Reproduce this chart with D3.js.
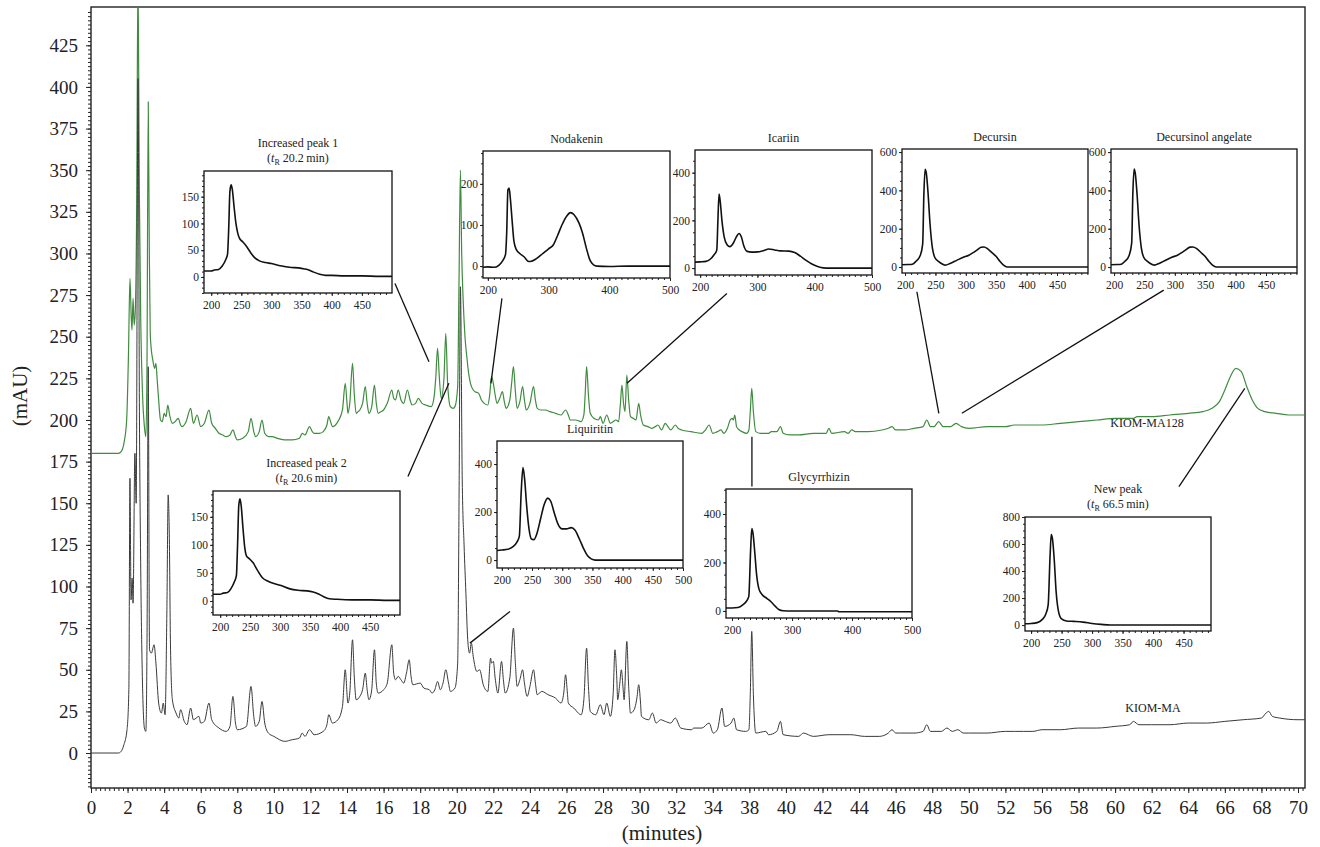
<!DOCTYPE html>
<html>
<head>
<meta charset="utf-8">
<script src="https://cdn.jsdelivr.net/npm/d3@7"></script>
<style>
body { margin: 0; background: #fff; }
svg text { font-family: "Liberation Serif", "DejaVu Serif", serif; fill: #222; }
</style>
</head>
<body>
<div id="chart"></div>
<script>
// tick labels of the main axis (36 and 54 are not printed in the original)
const xTickLabels = [0,2,4,6,8,10,12,14,16,18,20,22,24,26,28,30,32,34,38,40,42,44,46,48,50,52,56,58,60,62,64,66,68,70];
const yTickLabels = d3.range(0, 426, 25);

// KIOM-MA128 chromatogram [minutes, mAU]
const ma128 = [[0,180],[1.5,180],[1.65,181],[1.8,186],[1.95,200],[2.05,240],[2.13,285],[2.2,262],[2.24,254],[2.3,273],[2.36,257],[2.42,265],[2.5,330],[2.57,470],[2.64,340],[2.72,260],[2.82,215],[2.92,196],[3.0,190],[3.06,230],[3.13,391],[3.19,300],[3.24,252],[3.3,242],[3.38,236],[3.48,231],[3.55,234],[3.62,224],[3.7,212],[3.8,200],[3.9,199],[4.0,204],[4.1,202],[4.2,209],[4.3,203],[4.45,198],[4.6,199],[4.77,201],[4.9,197],[4.97,196],[5.2,199],[5.45,207],[5.6,198],[5.8,203],[6.0,196],[6.2,198],[6.45,206],[6.6,198],[6.8,195],[7.0,192],[7.2,191],[7.4,190],[7.6,191],[7.76,194],[7.9,190],[8.0,188],[8.3,189],[8.6,193],[8.75,201],[8.9,193],[9.0,190],[9.2,193],[9.35,200],[9.5,192],[9.7,190],[9.9,190],[10.2,189],[10.6,188],[11.0,188],[11.4,189],[11.55,192],[11.7,191],[11.95,196],[12.1,193],[12.2,192],[12.5,192],[12.7,193],[12.9,197],[13.0,202],[13.1,199],[13.2,196],[13.5,199],[13.75,206],[13.9,222],[14.0,210],[14.05,204],[14.15,210],[14.3,234],[14.4,215],[14.5,204],[14.6,205],[14.7,206],[14.85,210],[15.0,220],[15.1,210],[15.2,204],[15.35,208],[15.5,221],[15.6,210],[15.7,204],[15.85,205],[16.0,206],[16.2,210],[16.45,218],[16.55,213],[16.65,212],[16.8,218],[16.95,212],[17.1,210],[17.3,218],[17.45,212],[17.55,209],[17.75,210],[17.9,213],[18.1,210],[18.3,209],[18.6,208],[18.75,213],[18.85,225],[18.95,243],[19.05,225],[19.15,213],[19.3,225],[19.4,252],[19.5,222],[19.65,208],[19.8,207],[19.9,208],[20.05,220],[20.12,280],[20.2,350],[20.27,300],[20.35,272],[20.45,250],[20.55,238],[20.65,228],[20.75,222],[20.9,218],[21.0,217],[21.2,216],[21.35,212],[21.5,210],[21.7,209],[21.8,215],[21.9,226],[22.0,222],[22.1,215],[22.2,210],[22.35,213],[22.5,217],[22.6,211],[22.7,207],[22.9,212],[23.0,222],[23.1,232],[23.2,218],[23.3,207],[23.45,211],[23.6,220],[23.7,212],[23.8,206],[24.0,210],[24.2,220],[24.3,212],[24.4,207],[24.6,206],[24.85,206],[25.1,205],[25.4,204],[25.7,203],[25.95,206],[26.1,203],[26.2,200],[26.5,200],[26.8,199],[26.95,203],[27.02,215],[27.1,232],[27.2,215],[27.3,204],[27.5,201],[27.75,200],[27.85,202],[28.0,198],[28.2,203],[28.4,198],[28.55,199],[28.7,200],[28.85,199],[28.95,210],[29.03,221],[29.12,210],[29.2,205],[29.3,227],[29.4,212],[29.5,202],[29.65,201],[29.8,200],[29.95,210],[30.05,203],[30.2,197],[30.45,196],[30.65,195],[30.85,196],[31.0,197],[31.2,194],[31.4,198],[31.55,196],[31.7,194],[31.95,197],[32.1,195],[32.3,194],[32.8,193],[33.4,192],[33.6,194],[33.8,197],[34.0,192],[34.5,193],[34.9,194],[35.2,192],[35.6,195],[35.9,200],[36.1,201],[36.25,200],[36.4,203],[36.6,196],[36.9,194],[37.2,193],[37.7,192],[37.95,194],[38.05,205],[38.13,219],[38.22,205],[38.35,193],[38.6,192],[38.9,192],[39.05,192],[39.2,193],[39.5,193],[39.7,196],[39.85,192],[40.2,191],[40.7,191],[41.5,192],[42.2,192],[42.35,195],[42.5,192],[43.2,193],[43.4,192],[43.6,194],[43.8,193],[44.5,193],[45.25,194],[45.6,195],[45.8,196],[46.0,194],[46.5,194],[47.0,195],[47.5,196],[47.7,200],[47.9,196],[48.1,196],[48.35,199],[48.6,196],[49.0,196],[49.3,198],[49.6,196],[50,195],[51,196],[52,196],[53,197],[54,197],[55,197],[56,197],[57,198],[58,199],[59,200],[60,201],[61,201],[61.2,202],[62,202],[63,203],[64,204],[64.8,205],[65.3,207],[65.7,211],[66.0,218],[66.3,226],[66.6,231],[66.9,229],[67.2,220],[67.5,212],[67.8,207],[68.2,205],[68.8,204],[69.5,203],[70.4,203]];

// KIOM-MA chromatogram [minutes, mAU]
const ma = [[0,0],[1.5,0],[1.65,1],[1.8,5],[1.97,14],[2.07,38],[2.13,165],[2.19,92],[2.25,105],[2.3,90],[2.4,180],[2.47,150],[2.57,405],[2.65,200],[2.72,110],[2.8,50],[2.92,15],[3.0,13],[3.07,80],[3.13,232],[3.2,62],[3.3,60],[3.45,65],[3.55,54],[3.7,30],[3.85,24],[3.95,30],[4.05,23],[4.15,86],[4.22,155],[4.28,132],[4.35,62],[4.45,32],[4.65,24],[4.8,21],[4.9,26],[5.1,19],[5.25,17],[5.45,27],[5.6,20],[5.9,22],[6.0,18],[6.2,19],[6.45,30],[6.6,20],[7.0,15],[7.4,13],[7.6,16],[7.76,34],[7.9,18],[8.0,14],[8.5,16],[8.75,40],[8.9,22],[9.0,16],[9.2,19],[9.35,31],[9.5,18],[9.7,12],[10.0,10],[10.6,7],[11.0,8],[11.4,9],[11.55,12],[11.7,10],[11.95,14],[12.2,11],[12.7,13],[12.9,17],[13.0,23],[13.2,18],[13.5,20],[13.75,28],[13.9,50],[14.05,30],[14.15,36],[14.3,68],[14.4,45],[14.5,32],[14.7,34],[14.85,38],[15.0,48],[15.1,38],[15.2,32],[15.35,38],[15.5,62],[15.6,42],[15.7,36],[16.0,38],[16.2,42],[16.45,65],[16.55,48],[16.65,44],[16.8,46],[16.95,44],[17.1,42],[17.25,48],[17.4,56],[17.5,46],[17.6,41],[18.0,42],[18.2,39],[18.5,38],[18.65,36],[18.8,38],[18.95,43],[19.1,38],[19.25,42],[19.4,50],[19.55,42],[19.65,37],[19.9,39],[20.05,54],[20.13,160],[20.2,280],[20.3,164],[20.4,125],[20.5,96],[20.6,68],[20.7,60],[20.8,66],[20.9,58],[21.1,49],[21.25,50],[21.45,41],[21.7,37],[21.85,57],[21.9,54],[22.0,55],[22.1,45],[22.25,36],[22.45,55],[22.55,44],[22.65,36],[22.9,45],[23.1,75],[23.2,55],[23.3,40],[23.45,44],[23.6,50],[23.7,42],[23.85,34],[24.0,40],[24.2,50],[24.3,42],[24.4,35],[24.65,37],[25.0,35],[25.4,33],[25.7,30],[25.85,36],[25.95,47],[26.05,36],[26.1,30],[26.4,27],[26.8,23],[26.95,32],[27.1,63],[27.2,40],[27.3,25],[27.6,23],[27.85,29],[28.05,23],[28.2,30],[28.4,22],[28.55,35],[28.65,62],[28.75,45],[28.8,32],[28.9,40],[29.0,50],[29.1,38],[29.15,32],[29.3,67],[29.4,40],[29.5,24],[29.7,26],[29.85,33],[29.95,41],[30.05,30],[30.1,22],[30.5,20],[30.7,24],[30.9,18],[31.15,20],[31.4,19],[31.7,18],[31.95,21],[32.25,15],[32.85,14],[32.95,15],[33.4,15],[33.8,18],[34.05,12],[34.5,14],[35.0,27],[35.3,16],[36.0,18],[36.3,21],[36.6,14],[37.6,13],[37.95,14],[38.05,35],[38.13,73],[38.22,35],[38.35,12],[38.9,13],[39.05,11],[39.5,13],[39.7,19],[39.85,11],[40.7,10],[40.95,12],[41.5,10],[42.35,11],[43.55,11],[44.3,10],[45.1,10],[45.6,12],[45.8,14],[46.0,12],[46.2,12],[47.0,12],[47.5,13],[47.7,17],[47.9,13],[48.5,13],[48.8,15],[49.1,13],[49.4,14],[49.7,12],[50,12],[51,12],[52,13],[53,13],[54,13],[55,13],[56,14],[57,14],[58,15],[59,15],[60,16],[60.8,17],[61.0,19],[61.3,17],[62,17],[63,17],[64,18],[65,18],[66,19],[67,20],[68.0,21],[68.25,24],[68.4,25],[68.6,22],[69,21],[70,20],[70.4,20]];

// UV spectra of the marked peaks [nm, absorbance]
const specPeak1 = [[188,11],[195,11],[200,11],[205,13],[212,14],[218,20],[224,32],[227,42],[229,90],[231,160],[233,172],[235,163],[238,130],[241,100],[244,82],[247,72],[252,66],[258,58],[265,46],[272,36],[280,30],[290,27],[300,25],[315,21],[330,18],[345,17],[355,15],[362,13],[370,9],[380,5],[390,3],[400,3],[420,2],[450,2],[480,1],[500,1]];
const specPeak2 = [[188,12],[195,12],[200,12],[205,14],[212,15],[218,22],[224,35],[227,45],[229,100],[231,170],[233,182],[235,170],[238,130],[241,95],[244,80],[248,76],[255,68],[262,55],[270,42],[280,35],[290,31],[300,28],[315,22],[330,19],[345,18],[355,16],[363,13],[372,8],[382,4],[395,3],[420,2],[450,2],[480,1],[500,1]];
const specNodakenin = [[192,-3],[200,-2],[210,-3],[218,2],[224,12],[229,28],[231,80],[233,185],[235,190],[237,165],[240,110],[243,60],[247,40],[253,30],[260,22],[266,12],[270,11],[280,18],[290,30],[300,42],[308,52],[315,75],[322,100],[330,122],[336,130],[342,125],[350,105],[356,80],[362,45],[368,15],[374,3],[380,0],[400,-1],[430,0],[500,0]];
const specIcariin = [[191,25],[200,26],[210,28],[218,38],[224,55],[229,75],[231,200],[233,310],[235,280],[238,200],[242,130],[247,98],[252,90],[258,105],[263,130],[268,145],[272,130],[276,95],[282,70],[290,67],[300,68],[310,73],[320,80],[330,76],[340,72],[355,71],[365,65],[375,50],[385,32],[395,17],[405,7],[415,1],[425,0],[500,0]];
const specLiquiritin = [[192,40],[200,42],[210,45],[218,55],[225,75],[229,100],[232,280],[235,385],[238,330],[241,230],[245,130],[249,88],[253,85],[258,110],[264,170],[270,230],[276,258],[281,245],[287,195],[293,150],[300,130],[307,130],[315,135],[321,125],[328,90],[335,50],[342,18],[348,5],[355,0],[400,0],[500,0]];
const specDecursin = [[195,12],[205,13],[212,15],[218,30],[225,60],[229,120],[231,380],[233,510],[235,490],[238,380],[241,230],[245,100],[249,50],[255,30],[262,15],[266,10],[275,20],[285,35],[295,50],[305,62],[312,75],[318,88],[325,103],[330,105],[336,95],[343,75],[350,55],[356,30],[362,10],[368,0],[400,0],[501,0]];
const specDecursinol = [[195,12],[205,13],[212,15],[218,30],[225,62],[229,125],[231,390],[233,512],[235,488],[238,375],[241,225],[245,98],[249,50],[255,30],[262,15],[266,10],[275,20],[285,36],[295,51],[305,63],[312,77],[318,90],[325,104],[330,105],[336,96],[343,76],[350,55],[356,30],[362,10],[368,0],[400,0],[480,0],[501,0]];
const specGlycyrrhizin = [[190,12],[200,12],[210,14],[218,25],[224,40],[228,60],[231,250],[233,340],[235,320],[238,240],[241,150],[245,90],[250,68],[258,52],[265,38],[272,20],[278,6],[285,1],[300,0],[340,0],[376,0],[378,-3],[430,-3],[500,-3]];
const specNewPeak = [[190,10],[200,12],[210,18],[218,40],[224,80],[228,150],[231,500],[233,670],[235,640],[238,480],[241,250],[245,100],[250,45],[258,30],[270,27],[285,22],[300,12],[315,5],[330,0],[400,0],[495,0]];

const width = 1320, height = 847;
const plot = {left: 91, right: 1305, top: 7, bottom: 788};

// each printed tick sits at an even step; values between are interpolated per segment
var xi = d3.scaleLinear().domain([0, xTickLabels.length - 1]).range([91, 1298]);
var x = d3.scaleLinear().domain(xTickLabels).range(xTickLabels.map((d, i) => xi(i)));
var y = d3.scaleLinear().domain([-21, 448]).range([plot.bottom, plot.top]);

var svg = d3.select("#chart").append("svg")
    .attr("width", width)
    .attr("height", height);

svg.append("defs").append("clipPath").attr("id", "plotclip")
  .append("rect")
    .attr("x", plot.left).attr("y", plot.top)
    .attr("width", plot.right - plot.left).attr("height", plot.bottom - plot.top);

// axes
var xAxis = svg.append("g")
    .attr("transform", `translate(0, ${plot.bottom})`)
    .call(d3.axisBottom(x).tickValues(xTickLabels).tickSize(5).tickPadding(8).tickFormat(d => d));
xAxis.select(".domain").remove();
xAxis.selectAll("text").style("font-size", "19px");

var xMinor = svg.append("g")
    .attr("transform", `translate(0, ${plot.bottom})`)
    .call(d3.axisBottom(xi).tickValues(d3.range(0, 33.2, 0.125)).tickSize(3).tickFormat(""));
xMinor.select(".domain").remove();

var yAxis = svg.append("g")
    .attr("transform", `translate(${plot.left}, 0)`)
    .call(d3.axisLeft(y).tickValues(yTickLabels).tickSize(5).tickPadding(8));
yAxis.select(".domain").remove();
yAxis.selectAll("text").style("font-size", "19px");

var yMinor = svg.append("g")
    .attr("transform", `translate(${plot.left}, 0)`)
    .call(d3.axisLeft(y).tickValues(d3.range(-20, 447, 2.5)).tickSize(3).tickFormat(""));
yMinor.select(".domain").remove();

svg.selectAll(".tick line").attr("stroke", "#222");

svg.append("rect")
    .attr("x", plot.left).attr("y", plot.top)
    .attr("width", plot.right - plot.left).attr("height", plot.bottom - plot.top)
    .attr("fill", "none").attr("stroke", "#222").attr("stroke-width", 1.4);

// axis titles
svg.append("text")
    .attr("transform", "translate(27, 396) rotate(-90)")
    .attr("text-anchor", "middle")
    .style("font-size", "21px")
    .text("(mAU)");

svg.append("text")
    .attr("x", 662).attr("y", 840)
    .attr("text-anchor", "middle")
    .style("font-size", "21px")
    .text("(minutes)");

// chromatograms
var traceLine = d3.line()
    .x(d => x(d[0]))
    .y(d => y(d[1]))
    .curve(d3.curveMonotoneX);

var traces = svg.append("g").attr("clip-path", "url(#plotclip)");
traces.append("path").datum(ma128)
    .attr("d", traceLine)
    .attr("fill", "none").attr("stroke", "#3f8c3f").attr("stroke-width", 1.2);
traces.append("path").datum(ma)
    .attr("d", traceLine)
    .attr("fill", "none").attr("stroke", "#3a3a3a").attr("stroke-width", 1);

svg.append("text").attr("x", 1147).attr("y", 427)
    .attr("text-anchor", "middle").style("font-size", "12px").text("KIOM-MA128");
svg.append("text").attr("x", 1153).attr("y", 712)
    .attr("text-anchor", "middle").style("font-size", "12px").text("KIOM-MA");

// inset spectra with leader lines (leader ends given in minutes / mAU)
const insets = [
    {name: "Increased peak 1", tR: "20.2", data: specPeak1, box: [204, 171, 392, 293], xDom: [188, 500], yDom: [-30, 198],
     xTicks: [200, 250, 300, 350, 400, 450], yTicks: [0, 50, 100, 150], yMinor: 10, leader: [[16.62, 282], [18.48, 235]]},
    {name: "Nodakenin", data: specNodakenin, box: [483, 151, 670, 278], xDom: [192, 500], yDom: [-29, 280],
     xTicks: [200, 300, 400, 500], yTicks: [0, 100, 200], yMinor: 25, leader: [[22.47, 273], [21.87, 222]]},
    {name: "Icariin", data: specIcariin, box: [695, 150, 872, 275], xDom: [191, 500], yDom: [-29, 495],
     xTicks: [200, 300, 400, 500], yTicks: [0, 200, 400], yMinor: 50, leader: [[35.54, 276], [29.31, 222]]},
    {name: "Decursin", data: specDecursin, box: [902, 149, 1088, 273], xDom: [195, 501], yDom: [-31, 616],
     xTicks: [200, 250, 300, 350, 400, 450], yTicks: [0, 200, 400, 600], yMinor: 50, leader: [[47.16, 277], [48.36, 204]]},
    {name: "Decursinol angelate", data: specDecursinol, box: [1111, 149, 1297, 273], xDom: [195, 501], yDom: [-31, 616],
     xTicks: [200, 250, 300, 350, 400, 450], yTicks: [0, 200, 400, 600], yMinor: 50, leader: [[62.66, 278], [49.62, 204]]},
    {name: "Increased peak 2", tR: "20.6", data: specPeak2, box: [213, 491, 400, 615], xDom: [188, 500], yDom: [-25, 196],
     xTicks: [200, 250, 300, 350, 400, 450], yTicks: [0, 50, 100, 150], yMinor: 10, leader: [[17.33, 166], [19.57, 222]]},
    {name: "Liquiritin", data: specLiquiritin, box: [497, 441, 683, 568], xDom: [192, 500], yDom: [-33, 496],
     xTicks: [200, 250, 300, 350, 400, 450, 500], yTicks: [0, 200, 400], yMinor: 50, leader: [[22.91, 85], [20.72, 66]]},
    {name: "Glycyrrhizin", data: specGlycyrrhizin, box: [726, 489, 912, 618], xDom: [190, 500], yDom: [-29, 503],
     xTicks: [200, 300, 400, 500], yTicks: [0, 200, 400], yMinor: 50, leader: [[38.14, 190], [38.14, 160]]},
    {name: "New peak", tR: "66.5", data: specNewPeak, box: [1025, 517, 1211, 631], xDom: [190, 495], yDom: [-44, 800],
     xTicks: [200, 250, 300, 350, 400, 450], yTicks: [0, 200, 400, 600, 800], yMinor: 50, leader: [[63.49, 160], [67.09, 219]]}
];

insets.forEach((s, k) => {
    var [x0, y0, x1, y1] = s.box;
    var ix = d3.scaleLinear().domain(s.xDom).range([x0, x1]);
    var iy = d3.scaleLinear().domain(s.yDom).range([y1, y0]);

    // leader from the inset to its peak
    svg.append("line")
        .attr("x1", x(s.leader[0][0])).attr("y1", y(s.leader[0][1]))
        .attr("x2", x(s.leader[1][0])).attr("y2", y(s.leader[1][1]))
        .attr("stroke", "#111").attr("stroke-width", 1.3);

    var g = svg.append("g").attr("class", "inset");
    g.append("clipPath").attr("id", "clip" + k)
      .append("rect").attr("x", x0).attr("y", y0).attr("width", x1 - x0).attr("height", y1 - y0);

    g.append("rect")
        .attr("x", x0).attr("y", y0).attr("width", x1 - x0).attr("height", y1 - y0)
        .attr("fill", "#fff");

    g.append("path").datum(s.data)
        .attr("clip-path", `url(#clip${k})`)
        .attr("d", d3.line().x(d => ix(d[0])).y(d => iy(d[1])).curve(d3.curveMonotoneX))
        .attr("fill", "none").attr("stroke", "#111").attr("stroke-width", 1.6);

    var bx = g.append("g").attr("transform", `translate(0, ${y1})`)
        .call(d3.axisBottom(ix).tickValues(s.xTicks).tickSize(3).tickPadding(5));
    var bxm = g.append("g").attr("transform", `translate(0, ${y1})`)
        .call(d3.axisBottom(ix).tickValues(d3.range(200, s.xDom[1], 10)).tickSize(2).tickFormat(""));
    var ly = g.append("g").attr("transform", `translate(${x0}, 0)`)
        .call(d3.axisLeft(iy).tickValues(s.yTicks).tickSize(3).tickPadding(2));
    var lym = g.append("g").attr("transform", `translate(${x0}, 0)`)
        .call(d3.axisLeft(iy).tickValues(d3.range(Math.ceil(s.yDom[0] / s.yMinor) * s.yMinor, s.yDom[1], s.yMinor)).tickSize(2).tickFormat(""));
    [bx, bxm, ly, lym].forEach(a => a.select(".domain").remove());
    g.selectAll(".tick line").attr("stroke", "#222");
    g.selectAll(".tick text").style("font-size", "11.5px");

    g.append("rect")
        .attr("x", x0).attr("y", y0).attr("width", x1 - x0).attr("height", y1 - y0)
        .attr("fill", "none").attr("stroke", "#111").attr("stroke-width", 1.3);

    // title, with the retention time line when there is one
    var cx = (x0 + x1) / 2;
    if (s.tR) {
        g.append("text").attr("x", cx).attr("y", y0 - 24)
            .attr("text-anchor", "middle").style("font-size", "12px").text(s.name);
        var t2 = g.append("text").attr("x", cx).attr("y", y0 - 9)
            .attr("text-anchor", "middle").style("font-size", "12px");
        t2.append("tspan").text("(");
        t2.append("tspan").style("font-style", "italic").text("t");
        t2.append("tspan").attr("dy", 3).style("font-size", "8px").text("R");
        t2.append("tspan").attr("dy", -3).text(" " + s.tR + "\u2009min)");
    } else {
        g.append("text").attr("x", cx).attr("y", y0 - 8)
            .attr("text-anchor", "middle").style("font-size", "12px").text(s.name);
    }
});
</script>
</body>
</html>
